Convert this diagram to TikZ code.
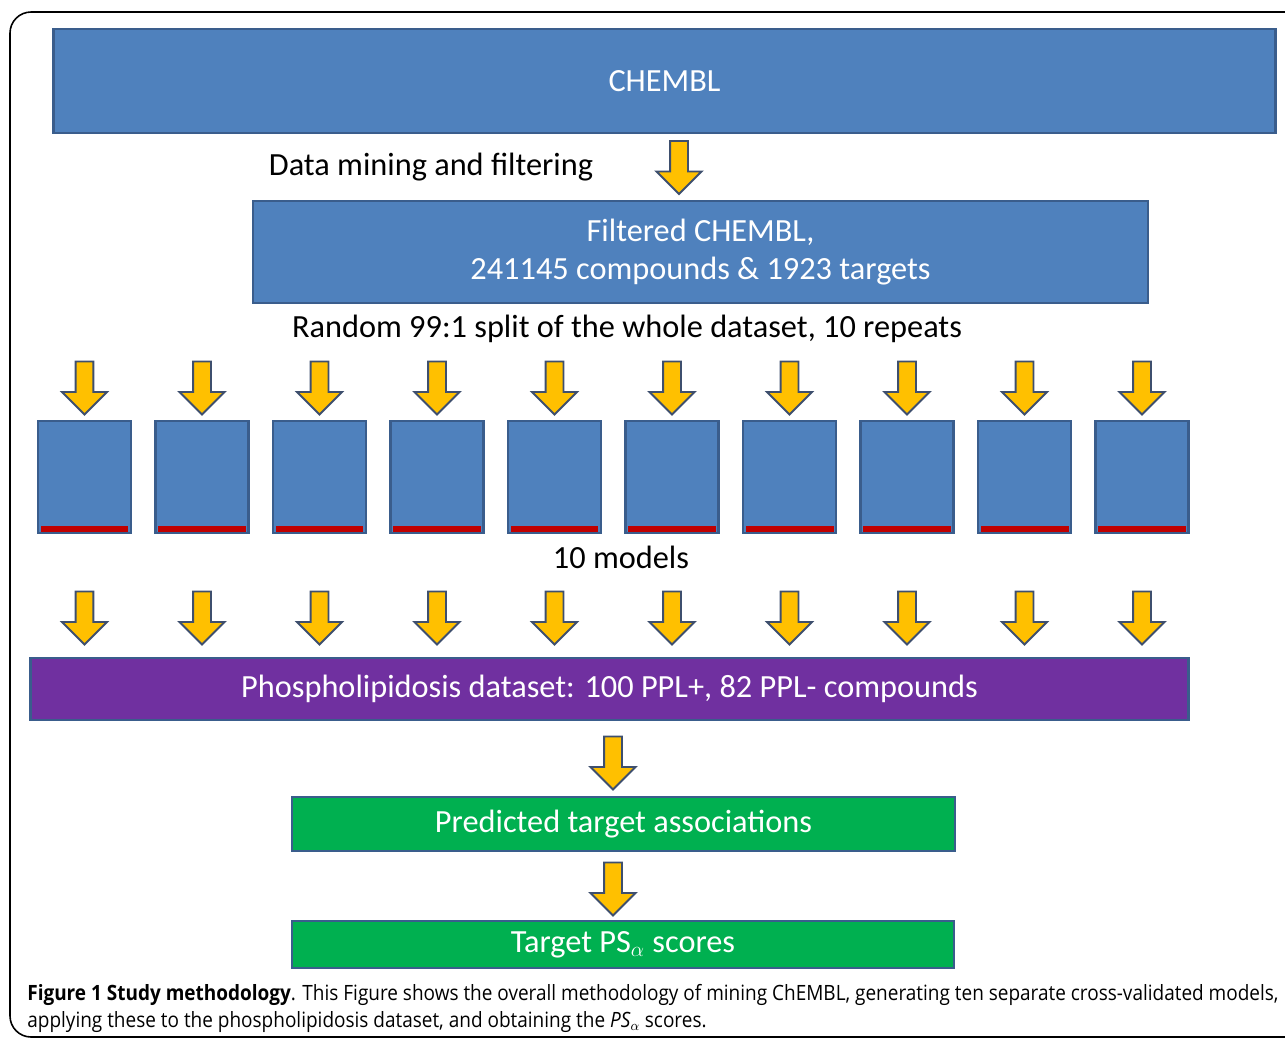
\documentclass[tikz,border=0pt]{standalone}
\usepackage{fontspec}
\setmainfont{Carlito}
\newfontfamily\capfont{Open Sans}
\usepackage{tikz}
\usetikzlibrary{shapes,arrows}
\definecolor{boxblue}{HTML}{4F81BD}
\definecolor{boxedge}{HTML}{3A5D8C}
\definecolor{arrowedge}{HTML}{3E4F6E}
\definecolor{arrowyellow}{HTML}{FFC000}
\definecolor{ppurple}{HTML}{7030A0}
\definecolor{pgreen}{HTML}{00B050}
\definecolor{barred}{HTML}{C00000}
\begin{document}
\begin{tikzpicture}[x=0.02cm,y=-0.02cm]
	\useasboundingbox (0,0) rectangle (1285,1039);
	\tikzstyle{block} = [draw=boxedge,rectangle,line width=1.6pt,text=white,font=\fontsize{18.4}{22}\selectfont,align=center]
	\tikzstyle{model} = [draw=boxedge,rectangle,line width=1.6pt,fill=boxblue,minimum width=1.86cm,minimum height=2.24cm,
		path picture={\fill[barred] ([xshift=0.05cm]path picture bounding box.south west) rectangle ([xshift=-0.05cm,yshift=0.15cm]path picture bounding box.south east);}]
	\tikzstyle{down} = [single arrow,shape border rotate=270,draw=arrowedge,fill=arrowyellow,line width=1.1pt,
		inner sep=0.16cm,single arrow head extend=0.27cm,minimum height=1.06cm]
	\tikzstyle{label} = [font=\fontsize{18.4}{22}\selectfont]
	%\draw[help lines] (0,0) grid (1285,1039);
	\draw[line width=0.9pt,rounded corners=12] (1300,12) -- (10,12) -- (10,1037) -- (1300,1037);
	\node[block,fill=boxblue,minimum width=24.46cm,minimum height=2.08cm](CH) at (664.5,81) {CHEMBL};
	\node[down](A0) at (679,163) {};
	\node[label](L1) at (431,167) {Data mining and filtering};
	\node[block,fill=boxblue,minimum width=17.9cm,minimum height=2.04cm](FC) at (700.5,252) {Filtered CHEMBL,\\241145 compounds \& 1923 targets};
	\node[label](L2) at (627,329) {Random 99:1 split of the whole dataset, 10 repeats};
	% models
	\node[down](T1) at (84.5,383.5) {};
	\node[down](T2) at (202,383.5) {};
	\node[down](T3) at (319.5,383.5) {};
	\node[down](T4) at (437,383.5) {};
	\node[down](T5) at (554.5,383.5) {};
	\node[down](T6) at (672,383.5) {};
	\node[down](T7) at (789.5,383.5) {};
	\node[down](T8) at (907,383.5) {};
	\node[down](T9) at (1024.5,383.5) {};
	\node[down](T10) at (1142,383.5) {};
	\node[model](M1) at (84.5,477) {};
	\node[model](M2) at (202,477) {};
	\node[model](M3) at (319.5,477) {};
	\node[model](M4) at (437,477) {};
	\node[model](M5) at (554.5,477) {};
	\node[model](M6) at (672,477) {};
	\node[model](M7) at (789.5,477) {};
	\node[model](M8) at (907,477) {};
	\node[model](M9) at (1024.5,477) {};
	\node[model](M10) at (1142,477) {};
	\node[label](L3) at (621,557) {10 models};
	\node[down](B1) at (84.5,613.5) {};
	\node[down](B2) at (202,613.5) {};
	\node[down](B3) at (319.5,613.5) {};
	\node[down](B4) at (437,613.5) {};
	\node[down](B5) at (554.5,613.5) {};
	\node[down](B6) at (672,613.5) {};
	\node[down](B7) at (789.5,613.5) {};
	\node[down](B8) at (907,613.5) {};
	\node[down](B9) at (1024.5,613.5) {};
	\node[down](B10) at (1142,613.5) {};
	\node[block,fill=ppurple,minimum width=23.18cm,minimum height=1.24cm](PD) at (609.5,689) {Phospholipidosis dataset: 100 PPL+, 82 PPL- compounds};
	\node[down](A1) at (613,758.5) {};
	\node[block,fill=pgreen,minimum width=13.26cm,minimum height=1.08cm](PT) at (623.5,824) {Predicted target associations};
	\node[down](A2) at (613,884.5) {};
	\node[block,fill=pgreen,minimum width=13.24cm,minimum height=0.94cm](PS) at (623,944.5) {Target PS$_\alpha$ scores};
	% caption
	\node[anchor=west,inner sep=0pt,font=\capfont\fontsize{12}{14}\selectfont](C1) at (27,995) {\scalebox{0.9}[1]{\textbf{Figure 1 Study methodology}. This Figure shows the overall methodology of mining ChEMBL, generating ten separate cross-validated models,}};
	\node[anchor=west,inner sep=0pt,font=\capfont\fontsize{12}{14}\selectfont](C2) at (27,1022) {\scalebox{0.9}[1]{applying these to the phospholipidosis dataset, and obtaining the \textit{PS}$_\alpha$ scores.}};
\end{tikzpicture}
\end{document}
